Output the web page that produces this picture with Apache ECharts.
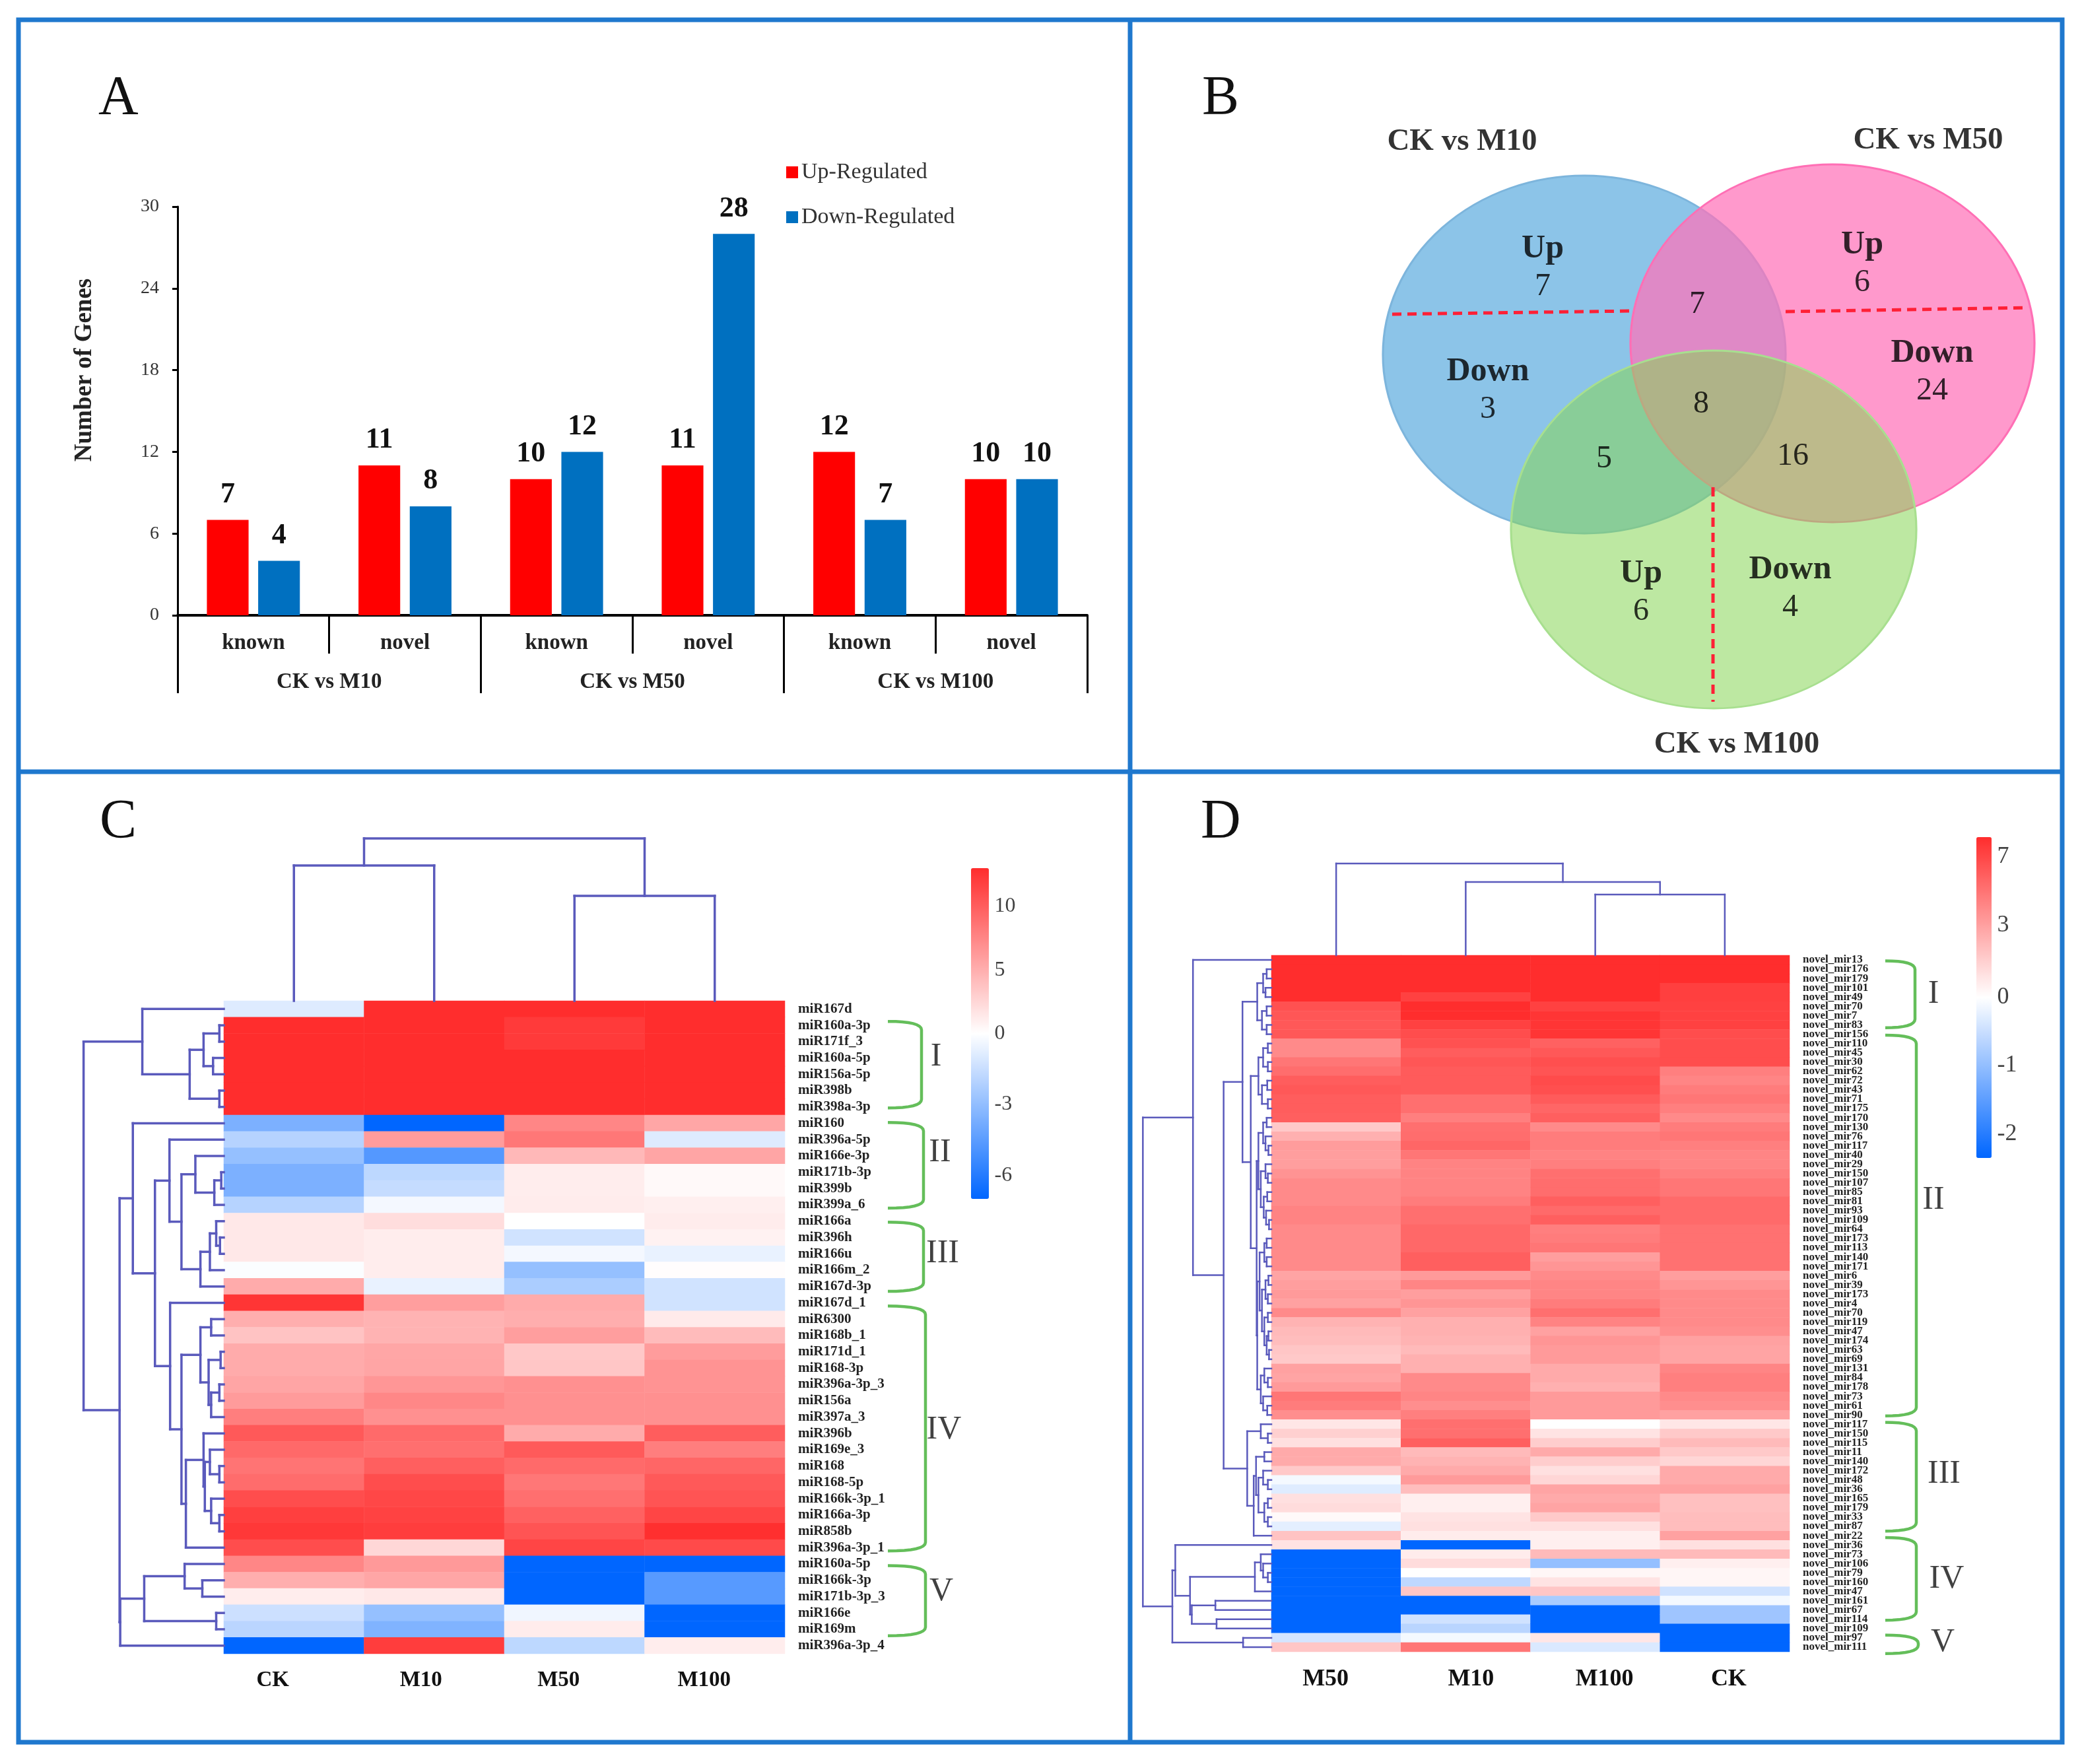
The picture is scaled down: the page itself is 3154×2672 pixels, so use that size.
<!DOCTYPE html>
<html><head><meta charset="utf-8">
<style>html,body{margin:0;padding:0;background:#fff}#c{width:3154px;height:2672px}</style>
<script src="https://cdn.jsdelivr.net/npm/echarts@6/dist/echarts.min.js"></script>
</head><body><div id="c"></div>
<script>
// ---------- Panel A ----------
const barCategories = ['known','novel','known','novel','known','novel'];
const barGroups = ['CK vs M10','CK vs M50','CK vs M100'];
const upRegulated = [7,11,10,11,12,10];
const downRegulated = [4,8,12,28,7,10];

// ---------- Panel B ----------
const vennSets = ['CK vs M10','CK vs M50','CK vs M100'];
const vennRegionNames = ['Up','Down','Up','Down','Up','Down','','','',''];
const vennRegionCounts = [7,3,6,24,6,4,7,8,5,16];

// ---------- Panel C ----------
const cRows = ['miR167d','miR160a-3p','miR171f_3','miR160a-5p','miR156a-5p','miR398b','miR398a-3p','miR160','miR396a-5p','miR166e-3p','miR171b-3p','miR399b','miR399a_6','miR166a','miR396h','miR166u','miR166m_2','miR167d-3p','miR167d_1','miR6300','miR168b_1','miR171d_1','miR168-3p','miR396a-3p_3','miR156a','miR397a_3','miR396b','miR169e_3','miR168','miR168-5p','miR166k-3p_1','miR166a-3p','miR858b','miR396a-3p_1','miR160a-5p','miR166k-3p','miR171b-3p_3','miR166e','miR169m','miR396a-3p_4'];
const cColumns = ['CK','M10','M50','M100'];
const cCK = [-0.9,13,13,13,13,13,13,-3.6,-2,-2.9,-3.6,-3.6,-2,1.4,1.4,1.4,-0.1,5.2,12.5,5,3.7,5.2,5.2,5.6,6.2,8,10.3,9.3,8.6,9.1,11,11.9,12.3,11,7.5,5,1.1,-1.4,-1.9,-7];
const cM10 = [13,13,13,13,13,13,13,-7,6.1,-4.7,-1.8,-1.6,-0.3,2.1,1.1,1.1,1.1,-0.6,6,4.7,4.7,5.5,5.6,6.5,7.4,6.9,9.2,8.9,9.9,11,11.4,11.7,12,2.5,6.3,5.5,1.4,-2.9,-3.5,12];
const cM50 = [13,12.2,12.2,13,13,13,13,7.5,8.4,4.4,1.1,1.1,1.2,0,-1.3,-0.3,-2.9,-2.3,5.2,5,6,3.4,3.5,6.9,6.9,6.9,5.2,10.2,9.2,8.4,8.9,9.8,10.6,11.5,-7,-7,-7,-0.4,1.2,-1.8];
const cM100 = [13,13,13,13,13,13,13,5.5,-0.9,5.6,0.4,0.4,1,1.2,0.8,-0.6,0.1,-1.3,-1.3,1.3,4.2,6.1,6.7,6.7,6.9,6.9,10,8,9.5,10.3,10.6,11.5,12.9,11.2,-7,-4.6,-4.6,-7,-7,1.1];
const cScaleValues = [-7,0,13];
const cTicks = [10,5,0,-3,-6];
const cBrackets = [[1.26,6.56],[7.45,12.7],[13.56,17.8],[18.7,33.7],[34.6,38.9]];
const cBracketNames = ['I','II','III','IV','V'];
const cTreeTop = [246,[205,0,1],[159,2,3]];
const cTreeLeft = [222,
  [129,0,[54,[32,[7,1,2],[17,3,4]],[7,5,6]]],
  [165,
    [144,7,[109,
      [86,8,[67,
        [45,9,[15,[4,10,11],12]],
        [37,[22,[12,13,[6,14,15]],16],17]]],
      [85,18,[67,
        [37,[20,19,20],[24,[5,21,22],[20,[7,23,24],25]]],
        [60,[32,26,[30,[22,27,[7,28,29]],[20,30,[7,31,32]]]],33]]]]],
    [164,[126,[62,34,[34,35,36]],[12,37,38]],39]]];

// ---------- Panel D ----------
const dRows = ['novel_mir13','novel_mir176','novel_mir179','novel_mir101','novel_mir49','novel_mir70','novel_mir7','novel_mir83','novel_mir156','novel_mir110','novel_mir45','novel_mir30','novel_mir62','novel_mir72','novel_mir43','novel_mir71','novel_mir175','novel_mir170','novel_mir130','novel_mir76','novel_mir117','novel_mir40','novel_mir29','novel_mir150','novel_mir107','novel_mir85','novel_mir81','novel_mir93','novel_mir109','novel_mir64','novel_mir173','novel_mir113','novel_mir140','novel_mir171','novel_mir6','novel_mir39','novel_mir173','novel_mir4','novel_mir70','novel_mir119','novel_mir47','novel_mir174','novel_mir63','novel_mir69','novel_mir131','novel_mir84','novel_mir178','novel_mir73','novel_mir61','novel_mir90','novel_mir117','novel_mir150','novel_mir115','novel_mir11','novel_mir140','novel_mir172','novel_mir48','novel_mir36','novel_mir165','novel_mir179','novel_mir33','novel_mir87','novel_mir22','novel_mir36','novel_mir73','novel_mir106','novel_mir79','novel_mir160','novel_mir47','novel_mir161','novel_mir67','novel_mir114','novel_mir109','novel_mir97','novel_mir111'];
const dColumns = ['M50','M10','M100','CK'];
const dM50 = [8,8,8,8,8,6.5,6.3,6.2,6.2,4,4,4.9,5.3,6,6.2,6,6,5.9,1.7,2.5,3.2,3.1,3.1,3.6,4,4,4,4.3,4.3,4,4,4,4,4,2.9,3.1,3.3,3,4,2.4,2.2,2.1,1.8,1.7,3,2.9,3.3,4.9,4.6,3.8,0.8,1.5,1,2.7,2.7,1.7,-0.1,-0.3,1,1.1,0.2,-0.25,1.9,0.9,-2.35,-2.35,-2.35,-2.35,-2.35,-2.35,-2.35,-2.35,-2.35,-0.4,1.8];
const dM10 = [8,8,8,8,7.2,8,8,7.2,6.7,6.5,6,6.3,6.1,6.1,6.1,5.2,5.2,4.5,5.2,5.3,5.6,4.9,4.3,4.3,4.3,4.3,4.6,5.2,5.2,5.5,5.5,5.5,5.9,5.9,3.3,4.2,3.1,3.5,3,2.5,2.5,2.4,2.2,2.5,2.5,4,4,4.2,3.8,4.5,5.2,5.2,5.9,2.2,2.4,2.7,3.3,2.1,0.5,0.5,0.9,1,0.6,-2.35,0.6,1.1,0,-0.6,1.8,-2.35,-2.35,-0.45,-0.65,-0.1,4.9];
const dM100 = [8,8,8,8,8,7.2,7.7,7.7,7.7,5.8,6.2,6.6,6.4,6.8,6.6,6.1,5.6,5.9,4,4.6,4.6,4.3,4.5,5.2,5.3,5.3,5.9,5.4,5.9,4.5,4.6,4.9,3.1,3.5,4,4.2,4.2,4.6,5.2,4.3,3,3.5,3.3,3.3,2.7,2.7,2.5,3.3,3.3,3.3,0,0.9,1.6,2.7,1.6,1,1.3,2.9,2.7,2.9,1.7,1,0.5,0.5,2.2,-1,0.3,0.9,1.8,-0.8,-2.35,-2.35,-2.35,0.8,-0.35];
const dCK = [8,8,8,7.3,7.3,7.2,7.2,7.2,6.7,6.7,6.7,6.7,4.5,4.2,4.6,4.9,4.5,4,4.6,4.9,4.5,4.2,4.2,4.5,4.9,4.9,5.4,5.4,5.4,5.1,5.1,5.1,5.1,5.1,3.1,3.5,4,4,4,4,3.8,3,2.9,2.9,4.2,4.5,4.5,4,3.8,3,0.8,1.7,2.2,1.7,1.3,2.7,2.7,3,2,2,2.1,2.1,3,1,2.2,0.5,0.3,0.3,-0.45,-0.1,-0.9,-0.9,-2.35,-2.35,-2.35];
const dScaleValues = [-2.35,-2,-1,0,3,7,8];
const dScalePositions = [-1,-0.85,-0.42,0,0.45,0.88,1];
const dTicks = [7,3,0,-1,-2];
const dBrackets = [[0.6,7.8],[8.6,49.6],[50.3,62],[62.7,71.6],[73.2,75.2]];
const dBracketNames = ['I','II','III','IV','V'];
const dTreeTop = [139,0,[111,1,[92,2,3]]];
const dTreeLeft = [218,
  [133,0,[81,
    [49,
      [24,[14,[8,1,2],[10,3,4]],[16,[8,5,6],[8,7,8]]],
      [35,
        [22,[14,[6,9,10],[6,11,12]],[16,[7,13,14],[6,15,16]]],
        [25,
          [22,[14,[8,17,18],[10,19,[5,20,21]]],[18,[10,22,[6,23,24]],[13,[7,25,26],[9,27,[4,28,29]]]]],
          [24,[20,[12,[8,30,31],[8,32,33]],[16,[10,[5,34,35],[6,36,37]],[12,[6,38,39],[8,[5,40,41],[4,42,43]]]]],
              [18,[12,44,[6,45,46]],[14,47,[7,48,49]]]]]]],
    [41,[18,50,[6,51,52]],
        [30,[26,[12,53,54],[22,[14,55,[6,56,57]],[12,[6,58,59],[6,60,61]]]],62]]]],
  [168,
    [163,63,[138,[28,[18,64,[14,65,[6,66,67]]],68],[135,[95,69,70],[93,71,72]]]],
    [48,73,74]]];

// ---------- helpers ----------
const serif = '"Liberation Serif","Times New Roman",serif';
const TREE = '#5A5ABC', GREEN = '#64BE5A', BLUE = '#0066FF', RED = '#FF2D2D';
const grids=[], xAxes=[], yAxes=[], series=[], visualMaps=[];
function addGrid(box, x, y){
  grids.push(Object.assign({containLabel:false}, box));
  const i = grids.length-1;
  xAxes.push(Object.assign({gridIndex:i, show:false}, x));
  yAxes.push(Object.assign({gridIndex:i, show:false}, y));
  return i;
}
function hidden(min,max,extra){ return Object.assign({type:'value',min,max,splitLine:{show:false}}, extra||{}); }
function treeSegments(tree){
  const segs=[];
  (function walk(n){
    if(typeof n==='number') return {h:0,p:n+0.5};
    const a=walk(n[1]), b=walk(n[2]), h=n[0];
    segs.push([a.h,a.p,h,a.p],[b.h,b.p,h,b.p],[h,a.p,h,b.p]);
    return {h,p:(a.p+b.p)/2};
  })(tree);
  return segs;
}
function segmentSeries(i,data,flip,width){
  return {type:'custom',xAxisIndex:i,yAxisIndex:i,silent:true,data,
    renderItem(p,api){
      const a=flip?[api.value(1),api.value(0)]:[api.value(0),api.value(1)];
      const b=flip?[api.value(3),api.value(2)]:[api.value(2),api.value(3)];
      const s=api.coord(a), e=api.coord(b);
      return {type:'line',shape:{x1:s[0],y1:s[1],x2:e[0],y2:e[1]},style:{stroke:TREE,lineWidth:width,lineCap:'square'}};
    }};
}
function interp(v,xs,ys){
  for(let k=1;k<xs.length;k++) if(v<=xs[k]) return ys[k-1]+(ys[k]-ys[k-1])*(v-xs[k-1])/(xs[k]-xs[k-1]);
  return ys[ys.length-1];
}
function heatPanel(o){
  const rows=o.rows.length, cols=o.columns.length;
  const scale=v=>interp(v,o.scaleValues,o.scalePositions);
  // heat
  const h=addGrid(o.heat,
    {type:'category',show:true,data:o.columns.map((c,i)=>({value:c,textStyle:{padding:o.colPadding[i]}})),position:'bottom',axisLine:{show:false},axisTick:{show:false},
     axisLabel:{interval:0,fontFamily:serif,fontWeight:'bold',fontSize:o.colFont,color:'#111',margin:o.colMargin}},
    {type:'category',show:true,data:o.rows,inverse:true,position:'right',axisLine:{show:false},axisTick:{show:false},
     axisLabel:{interval:0,fontFamily:serif,fontWeight:o.rowWeight,fontSize:o.rowFont,color:'#222',margin:o.rowMargin}});
  const cells=[];
  o.values.forEach((col,c)=>col.forEach((v,r)=>cells.push([c,r,scale(v)])));
  series.push({type:'heatmap',xAxisIndex:h,yAxisIndex:h,data:cells,silent:true,progressive:0,emphasis:{disabled:true},itemStyle:{borderWidth:0}});
  visualMaps.push({type:'continuous',seriesIndex:series.length-1,min:-1,max:1,calculable:false,realtime:false,hoverLink:false,
    inRange:{color:[BLUE,'#FFFFFF',RED]},orient:'vertical',left:o.bar.left,top:o.bar.top,itemWidth:o.bar.width,itemHeight:o.bar.height,padding:0,text:null,textGap:0});
  // left tree
  const lw=o.leftUnits*o.leftScale;
  const l=addGrid({left:o.heat.left-lw,top:o.heat.top,width:lw,height:o.heat.height},hidden(0,o.leftUnits,{inverse:true}),hidden(0,rows,{inverse:true}));
  series.push(segmentSeries(l,treeSegments(o.treeLeft),false,o.treeWidth));
  // top tree
  const t=addGrid({left:o.heat.left,top:o.heat.top-o.topUnits,width:o.heat.width,height:o.topUnits},hidden(0,cols),hidden(0,o.topUnits));
  series.push(segmentSeries(t,treeSegments(o.treeTop),true,o.treeWidth));
  // brackets
  const b=addGrid({left:o.heat.left+o.heat.width,top:o.heat.top,width:280,height:o.heat.height},hidden(0,280),hidden(0,rows,{inverse:true}));
  series.push({type:'custom',xAxisIndex:b,yAxisIndex:b,silent:true,data:o.brackets.map((br,i)=>[br[0],br[1],o.cornerX[i]]),
    renderItem(p,api){
      const top=api.coord([o.tipX,api.value(0)]), bot=api.coord([o.tipX,api.value(1)]);
      const cx=api.coord([api.value(2),0])[0], tx=top[0];
      const R=Math.min(13,(bot[1]-top[1])/2.2), pts=[];
      for(let k=0;k<=8;k++){const u=k/8;pts.push([(1-u)*(1-u)*tx+2*u*(1-u)*cx+u*u*cx,(1-u)*(1-u)*top[1]+2*u*(1-u)*top[1]+u*u*(top[1]+R)]);}
      for(let k=8;k>=0;k--){const u=k/8;pts.push([(1-u)*(1-u)*tx+2*u*(1-u)*cx+u*u*cx,(1-u)*(1-u)*bot[1]+2*u*(1-u)*bot[1]+u*u*(bot[1]-R)]);}
      return {type:'polyline',shape:{points:pts},style:{stroke:GREEN,lineWidth:4.5,fill:null}};
    }});
  series.push({type:'scatter',xAxisIndex:b,yAxisIndex:b,silent:true,symbolSize:1,itemStyle:{color:'transparent'},
    data:o.bracketNames.map((n,i)=>({value:[o.labelX[i],o.labelRow[i]],name:n})),
    label:{show:true,position:'inside',formatter:p=>p.name,fontFamily:serif,fontSize:50,color:'#111'}});
  // colour bar tick labels
  const c=addGrid({left:o.bar.left,top:o.bar.top,width:o.bar.width,height:o.bar.height},hidden(0,1),hidden(-1,1));
  series.push({type:'scatter',xAxisIndex:c,yAxisIndex:c,silent:true,symbolSize:1,itemStyle:{color:'transparent'},
    data:o.ticks.map(t=>({value:[1,scale(t)],name:String(t)})),
    label:{show:true,position:'right',distance:o.bar.gap,formatter:p=>p.name,fontFamily:serif,fontSize:o.bar.font,color:'#111'}});
}

// ---------- Panel A grid ----------
const aGrid=addGrid({left:269,top:313,width:1378,height:619},
  {type:'category',show:true,data:barCategories,position:'bottom',axisLine:{show:true,lineStyle:{color:'#000',width:4}},
   axisTick:{show:true,alignWithLabel:false,length:58,lineStyle:{color:'#000',width:3}},
   axisLabel:{interval:0,fontFamily:serif,fontWeight:'bold',fontSize:33,color:'#222',margin:26}},
  {type:'value',show:true,min:0,max:30,interval:6,splitLine:{show:false},axisLine:{show:true,lineStyle:{color:'#000',width:3}},
   axisTick:{show:true,length:8,lineStyle:{color:'#000',width:3}},
   axisLabel:{fontFamily:serif,fontSize:28,color:'#333',margin:28},
   name:'Number of Genes',nameLocation:'middle',nameGap:122,nameRotate:90,
   nameTextStyle:{fontFamily:serif,fontWeight:'bold',fontSize:37,color:'#222',padding:[0,0,0,124]}});
const barLabel={show:true,position:'top',distance:16,fontFamily:serif,fontWeight:'bold',fontSize:44,color:'#111'};
series.push({type:'bar',name:'Up-Regulated',xAxisIndex:aGrid,yAxisIndex:aGrid,data:upRegulated,barWidth:'27.5%',barGap:'23%',itemStyle:{color:'#FF0000'},label:barLabel,silent:true});
series.push({type:'bar',name:'Down-Regulated',xAxisIndex:aGrid,yAxisIndex:aGrid,data:downRegulated,barWidth:'27.5%',barGap:'23%',itemStyle:{color:'#0070C0'},label:barLabel,silent:true});

// ---------- Panel B (Venn) : axes are a plain layout space of the panel ----------
const vennLayout={
  ellipses:[[2400,537,610,542,'rgba(63,157,217,0.6)','#7DB5DC'],[2776,520,612,542,'rgba(255,113,184,0.72)','#FF6FB5'],[2596,802,614,542,'rgba(135,213,85,0.55)','#A8DF8F']],
  divider:[[[2109,476],[2476,471]],[[2705,472],[3073,466]],[[2595,738],[2595,1063]]],
  setLabels:[[2215,215],[2921,213],[2631,1128]],
  regions:[[2337,405],[2254,591],[2821,399],[2927,563],[2486,897],[2712,891],[2571,461],[2577,612],[2430,695],[2716,691]]
};
const vGrid=addGrid({left:1712,top:30,width:1412,height:1139},hidden(1712,3124),hidden(30,1169,{inverse:true}));
series.push({type:'scatter',xAxisIndex:vGrid,yAxisIndex:vGrid,silent:true,
  data:vennLayout.ellipses.map(e=>({value:[e[0],e[1]],symbolSize:[e[2],e[3]],itemStyle:{color:e[4],borderColor:e[5],borderWidth:3,opacity:1}}))});
vennLayout.divider.forEach(d=>series.push({type:'line',xAxisIndex:vGrid,yAxisIndex:vGrid,data:d,showSymbol:false,silent:true,
  lineStyle:{color:'#FF2036',width:5,type:[14,9]}}));
series.push({type:'scatter',xAxisIndex:vGrid,yAxisIndex:vGrid,silent:true,symbolSize:1,itemStyle:{color:'transparent'},
  data:vennRegionCounts.map((n,i)=>({value:vennLayout.regions[i],name:vennRegionNames[i]?`{t|${vennRegionNames[i]}}\n{n|${n}}`:`{n|${n}}`})),
  label:{show:true,position:'inside',formatter:p=>p.name,rich:{
    t:{fontFamily:serif,fontWeight:'bold',fontSize:50,color:'#000',lineHeight:58},
    n:{fontFamily:serif,fontSize:48,color:'#000',lineHeight:56}}}});
series.push({type:'scatter',xAxisIndex:vGrid,yAxisIndex:vGrid,silent:true,symbolSize:1,itemStyle:{color:'transparent'},
  data:vennSets.map((n,i)=>({value:vennLayout.setLabels[i],name:n})),
  label:{show:true,position:'inside',formatter:p=>p.name,fontFamily:serif,fontWeight:'bold',fontSize:47,color:'#000'}});

// ---------- Panels C and D ----------
heatPanel({rows:cRows,columns:cColumns,values:[cCK,cM10,cM50,cM100],
  heat:{left:339,top:1516,width:850,height:989},colFont:33,colMargin:24,colPadding:[[0,64,0,0],[0,40,0,0],[0,48,0,0],[0,32,0,0]],rowFont:21,rowWeight:'bold',rowMargin:20,
  scaleValues:cScaleValues,scalePositions:[-1,0,1],ticks:cTicks,
  bar:{left:1471,top:1315,width:27,height:501,gap:8,font:32},
  treeLeft:cTreeLeft,leftUnits:222,leftScale:0.9566,treeTop:cTreeTop,topUnits:246,treeWidth:3.5,
  brackets:cBrackets,bracketNames:cBracketNames,tipX:156,cornerX:[207,210,210,213,213],labelX:[229,235,239,241,237],labelRow:[3.44,9.3,15.5,26.3,36.2]});
heatPanel({rows:dRows,columns:dColumns,values:[dM50,dM10,dM100,dCK],
  heat:{left:1926,top:1447,width:785,height:1055},colFont:36,colMargin:24,colPadding:[[0,32,0,0],[0,0,0,16],[0,0,0,28],[0,0,0,12]],rowFont:17,rowWeight:'bold',rowMargin:20,
  scaleValues:dScaleValues,scalePositions:dScalePositions,ticks:dTicks,
  bar:{left:2994,top:1268,width:23,height:486,gap:8,font:36},
  treeLeft:dTreeLeft,leftUnits:218,leftScale:0.893,treeTop:dTreeTop,topUnits:139,treeWidth:2.5,
  brackets:dBrackets,bracketNames:dBracketNames,tipX:145,cornerX:[190,192,192,192,195],labelX:[218,218,234,238,232],labelRow:[4.2,26.4,55.9,67.2,74]});

// second level of panel A's category axis (added last so that axis indices match grid indices)
xAxes.push({gridIndex:aGrid,type:'category',data:barGroups,position:'bottom',offset:0,
  axisLine:{show:false},axisTick:{show:true,length:118,lineStyle:{color:'#000',width:3}},
  axisLabel:{interval:0,fontFamily:serif,fontWeight:'bold',fontSize:33,color:'#222',margin:85}});

const letter=(text,left,top)=>({text,left,top,padding:0,textStyle:{fontFamily:serif,fontWeight:'normal',fontSize:84,color:'#111'}});
const frame='#1F78CE';
const chart=echarts.init(document.getElementById('c'),null,{width:3154,height:2672,renderer:'canvas'});
chart.setOption({
  animation:false,backgroundColor:'#fff',
  title:[letter('A',149,109),letter('B',1821,109),letter('C',151,1205),letter('D',1819,1205)],
  legend:{show:true,data:['Up-Regulated','Down-Regulated'],orient:'vertical',left:1191,top:244,padding:0,itemWidth:18,itemHeight:18,itemGap:34,icon:'rect',selectedMode:false,
    textStyle:{fontFamily:serif,fontSize:34,color:'#333'}},
  grid:grids,xAxis:xAxes,yAxis:yAxes,visualMap:visualMaps,series,
  graphic:[
    {type:'rect',silent:true,z:100,shape:{x:28,y:30,width:3096,height:2609},style:{fill:null,stroke:frame,lineWidth:7}},
    {type:'line',silent:true,z:100,shape:{x1:1712,y1:30,x2:1712,y2:2639},style:{stroke:frame,lineWidth:7}},
    {type:'line',silent:true,z:100,shape:{x1:28,y1:1169,x2:3124,y2:1169},style:{stroke:frame,lineWidth:7}}
  ]
});
</script></body></html>
